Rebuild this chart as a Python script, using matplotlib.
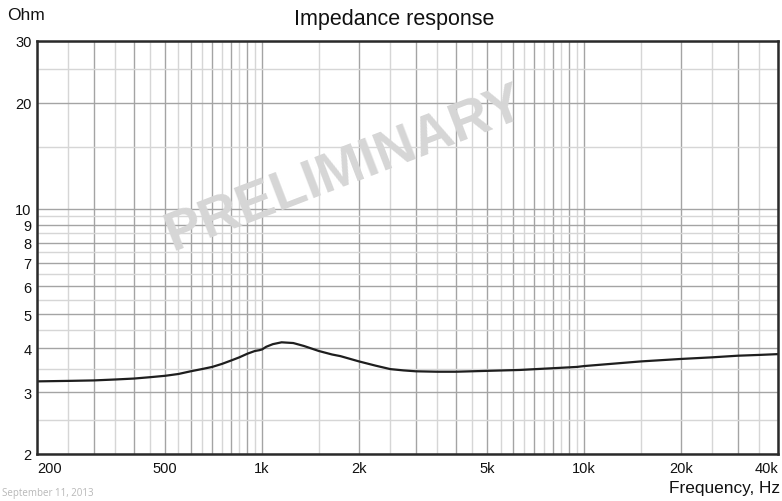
import numpy as np
import matplotlib.pyplot as plt
from matplotlib.ticker import FixedLocator, NullFormatter

plt.rcParams['font.family'] = ['Liberation Sans', 'DejaVu Sans']

# impedance curve (Hz, Ohm)
freq = [200, 250, 300, 350, 400, 450, 500, 550, 600, 650, 700, 750, 800, 850, 900,
        950, 980, 1000, 1030, 1080, 1150, 1250, 1350, 1500, 1650, 1750, 2000, 2250,
        2500, 2750, 3000, 3500, 4000, 5000, 6300, 8000, 9500, 10000, 12500, 15000,
        20000, 25000, 30000, 35000, 40000]
ohm = [3.22, 3.23, 3.24, 3.26, 3.28, 3.31, 3.34, 3.38, 3.44, 3.49, 3.54, 3.61, 3.69, 3.77, 3.86,
       3.93, 3.95, 3.97, 4.04, 4.11, 4.16, 4.14, 4.06, 3.93, 3.84, 3.80, 3.67, 3.57,
       3.49, 3.46, 3.44, 3.43, 3.43, 3.45, 3.47, 3.51, 3.54, 3.56, 3.62, 3.67,
       3.73, 3.77, 3.81, 3.83, 3.85]

xticks = [200, 500, 1000, 2000, 5000, 10000, 20000, 40000]
xtick_labels = ['200', '500', '1k', '2k', '5k', '10k', '20k', '40k']
yticks = [2, 3, 4, 5, 6, 7, 8, 9, 10, 20, 30]

# grid: darker lines on round values, lighter on the halves
x_major = list(range(200, 1001, 100)) + list(range(2000, 10001, 1000)) + [20000, 30000, 40000]
x_minor = list(range(250, 1000, 100)) + list(range(1500, 10000, 1000)) + [15000, 25000, 35000]
y_major = [2, 3, 4, 5, 6, 7, 8, 9, 10, 20, 30]
y_minor = [2.5, 3.5, 4.5, 5.5, 6.5, 7.5, 8.5, 9.5, 15, 25]

fig = plt.figure(figsize=(7.82, 5.02), dpi=100)
ax = fig.add_axes([37 / 782, 47 / 502, 741 / 782, 413 / 502])

ax.set_xscale('log')
ax.set_yscale('log')
ax.set_xlim(200, 40000)
ax.set_ylim(2, 30)

for v in x_minor:
    ax.axvline(v, color='#d6d6d6', lw=1.0, zorder=1)
for v in x_major:
    ax.axvline(v, color='#a4a4a4', lw=1.0, zorder=1)
for v in y_minor:
    ax.axhline(v, color='#d6d6d6', lw=1.0, zorder=1)
for v in y_major:
    ax.axhline(v, color='#a4a4a4', lw=1.0, zorder=1)

ax.plot(freq, ohm, color='#1e1e1e', lw=1.6, zorder=3)

ax.xaxis.set_major_locator(FixedLocator(xticks))
ax.set_xticklabels(xtick_labels)
ax.xaxis.set_minor_formatter(NullFormatter())
ax.xaxis.set_minor_locator(FixedLocator([]))
ax.yaxis.set_major_locator(FixedLocator(yticks))
ax.set_yticklabels([str(v) for v in yticks])
ax.yaxis.set_minor_formatter(NullFormatter())
ax.yaxis.set_minor_locator(FixedLocator([]))
ax.tick_params(axis='both', length=0, labelsize=10.5, colors='#111111')
ax.tick_params(axis='x', pad=5)
ax.tick_params(axis='y', pad=4)

xl = ax.get_xticklabels()
xl[0].set_horizontalalignment('left')
xl[-1].set_horizontalalignment('right')

for s in ax.spines.values():
    s.set_color('#2a2a2a')
    s.set_linewidth(1.8)
    s.set_zorder(4)

fig.text(394 / 782, 1 - 20 / 502, 'Impedance response', fontsize=15.5, ha='center', va='center', color='#111111')
fig.text(7 / 782, 1 - 16 / 502, 'Ohm', fontsize=12.5, ha='left', va='center', color='#111111')
fig.text(780 / 782, 1 - 489 / 502, 'Frequency, Hz', fontsize=12.4, ha='right', va='center', color='#111111')
fig.text(2 / 782, 1 - 494 / 502, 'September 11, 2013', fontsize=7, ha='left', va='center',
         color='#b8b8b8', family=['Open Sans', 'DejaVu Sans'])

ax.text(0.415, 0.69, 'PRELIMINARY', transform=ax.transAxes, fontsize=40, rotation=21,
        ha='center', va='center', color='#d6d6d6', fontweight='bold', zorder=2)

fig.savefig('out.png', dpi=100)
